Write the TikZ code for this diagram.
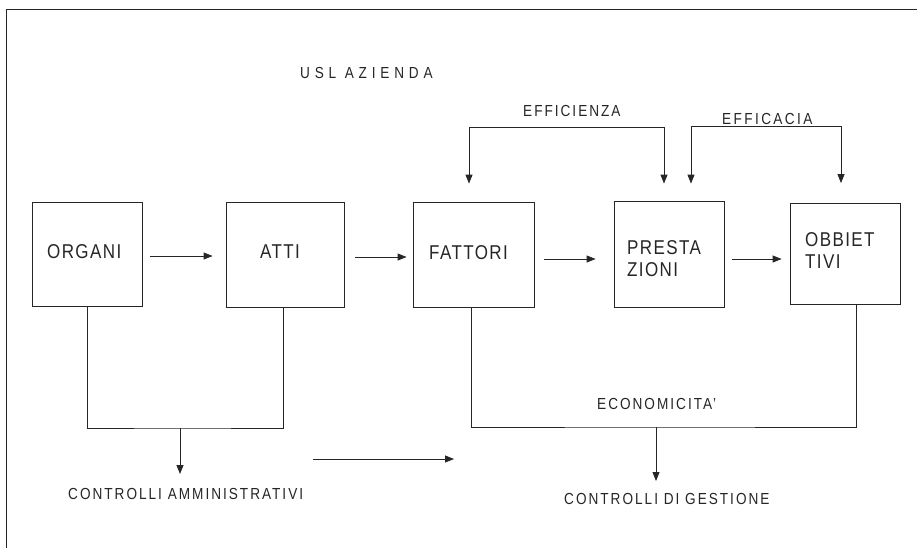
\documentclass[tikz,border=0pt]{standalone}
\usepackage{fontspec}
\setmainfont{Liberation Sans}[FakeStretch=0.85]
\usetikzlibrary{arrows.meta,calc}
\begin{document}
\begin{tikzpicture}[x=1pt,y=-1pt,
  ln/.style={line width=0.8pt, draw=black!85},
  tip/.tip={Triangle[length=9pt,width=7pt]},
  arr/.style={ln, -tip},
  dbl/.style={ln, tip-tip},
  box/.style={ln, rectangle, inner sep=0pt},
  big/.style={inner sep=0pt, text=black!85, font=\fontsize{20}{22}\selectfont\addfontfeature{LetterSpace=7}},
  lab/.style={inner sep=0pt, anchor=west, text=black!85, font=\fontsize{16}{18}\selectfont\addfontfeature{LetterSpace=#1}},
  lab/.default=12.5
]
\useasboundingbox (0,0) rectangle (917,548);
% frame
\draw[ln] (917,9) -- (6,9) -- (6,548);

% boxes
\node[box, minimum width=110pt, minimum height=104pt] (organi) at (87,254) {};
\node[box, minimum width=118pt, minimum height=105pt] (atti) at (285,254.5) {};
\node[box, minimum width=121pt, minimum height=105pt] (fattori) at (473.5,254.5) {};
\node[box, minimum width=110pt, minimum height=106pt] (presta) at (669,254) {};
\node[box, minimum width=110pt, minimum height=101pt] (obb) at (845,253.5) {};

% box texts
\node[big, anchor=west] (torg) at (47,252) {ORGANI};
\node[big, anchor=west] (tatti) at (260,252) {ATTI};
\node[big, anchor=west] (tfat) at (429,253) {FATTORI};
\node[big, anchor=north west, align=left] (tpre) at (627,240) {PRESTA\\ZIONI};
\node[big, anchor=north west, align=left] (tobb) at (805,232) {OBBIET\\TIVI};

% horizontal arrows
\draw[arr] ($(organi.east)+(8,2)$) -- ($(organi.east -| atti.west)+(-13,2)$);
\draw[arr] ($(atti.east)+(11,2.5)$) -- ($(atti.east -| fattori.west)+(-6,2.5)$);
\draw[arr] ($(fattori.east)+(10,4.5)$) -- ($(fattori.east -| presta.west)+(-18,4.5)$);
\draw[arr] ($(presta.east)+(8,5)$) -- ($(presta.east -| obb.west)+(-8,5)$);

% top brackets
\coordinate (ea) at ($(fattori.north)+(-4.5,-18)$);
\coordinate (eb) at ($(presta.north)+(-5,-17)$);
\coordinate (ec) at ($(presta.north)+(22,-17)$);
\coordinate (ed) at ($(obb.north)+(-4,-19.5)$);
\draw[dbl] (ea) -- ++(0,-56) -| (eb);
\draw[dbl] (ec) -- ++(0,-57) -| (ed);

% bottom brackets
\coordinate (adm) at (180,428);
\draw[ln] (organi.south) |- (adm) -| ($(atti.south)+(-2,0)$);
\draw[arr] (adm) -- ++(0,46);
\coordinate (eco) at (656,427);
\draw[ln] ($(fattori.south)+(-2.5,0)$) |- (eco) -| ($(obb.south)+(11,0)$);
\draw[arr] (eco) -- ++(0,54);
\coordinate (m1) at (313,459);
\coordinate (m2) at (454,459);
\draw[arr] (m1) -- (m2);

% labels
\node[lab=30] (usl) at (300,72.5) {USL AZIENDA};
\node[lab] (effi) at (523,110.5) {EFFICIENZA};
\node[lab=15] (effa) at (722,119) {EFFICACIA};
\node[lab] (econ) at (597,403.5) {ECONOMICITA'};
\node[lab] (camm) at (68,494) {CONTROLLI AMMINISTRATIVI};
\node[lab] (cges) at (564,498.5) {CONTROLLI DI GESTIONE};
\end{tikzpicture}
\end{document}
